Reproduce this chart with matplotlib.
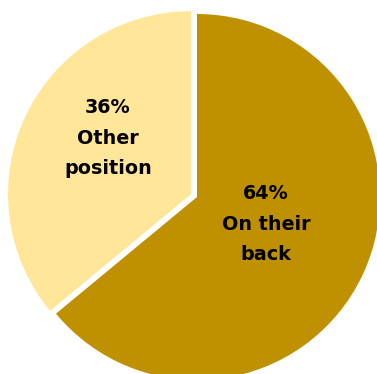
import matplotlib.pyplot as plt

# share of sleeping positions
labels = ['On their back', 'Other position']
values = [64, 36]
colors = ['#BF9000', '#FFE699']
explode = [0, 6.6]   # data units (pixels here)

# label text, placed by hand like in the original
label_text = ['64%\nOn their\nback', '36%\nOther\nposition']
label_pos = [(266, 224), (108, 138)]   # pixel positions from top-left

W, H = 377, 374
fig = plt.figure(figsize=(W / 100, H / 100), dpi=100)
ax = fig.add_axes([0, 0, 1, 1])

ax.pie(values, colors=colors, explode=explode, startangle=90, counterclock=False,
       center=(197, H - 197), radius=183, frame=True,
       wedgeprops={'linewidth': 0})
ax.set_xlim(0, W)
ax.set_ylim(0, H)
ax.set_aspect('equal')
ax.axis('off')

for txt, (x, y) in zip(label_text, label_pos):
    ax.text(x, H - y, txt, ha='center', va='center', fontsize=13.8,
            fontweight='bold', family='DejaVu Sans', linespacing=1.75,
            color='black')

fig.savefig('out.png', dpi=100)
